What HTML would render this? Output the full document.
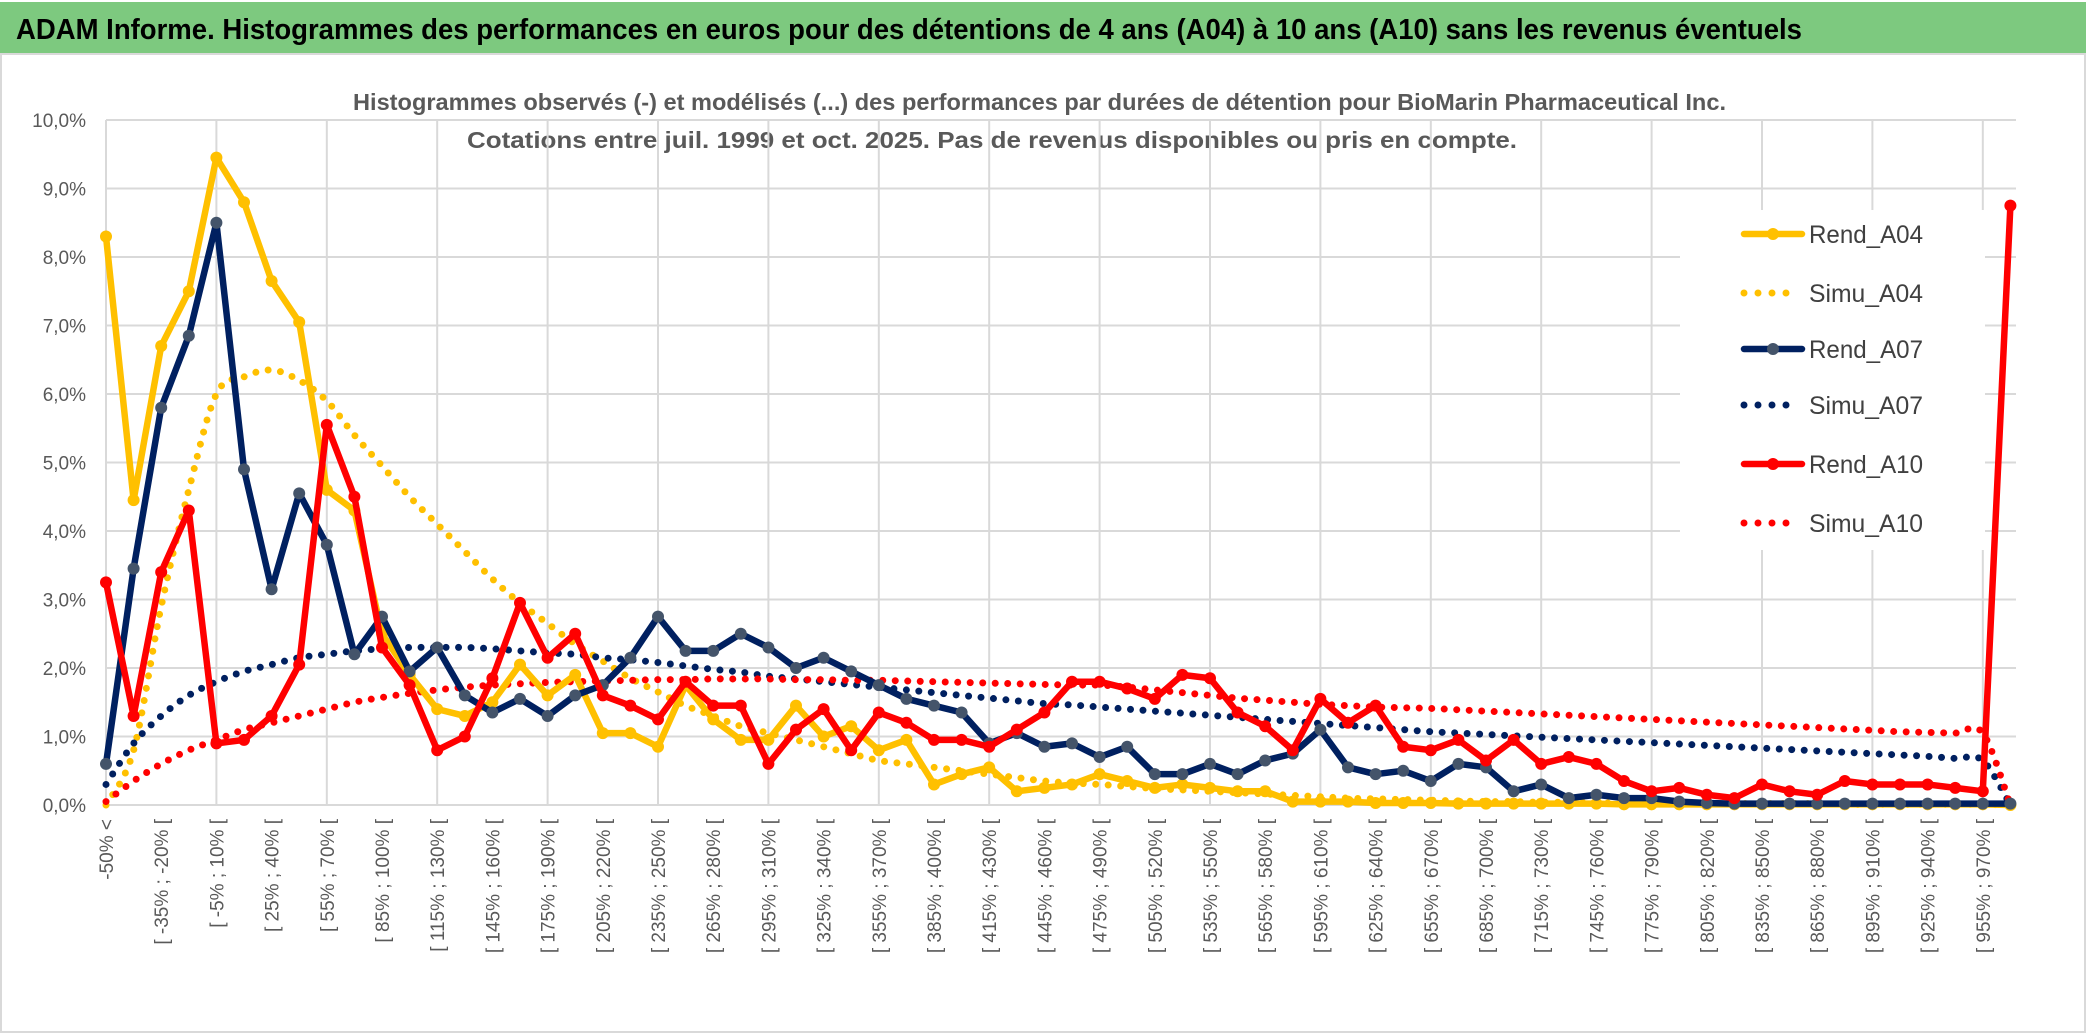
<!DOCTYPE html>
<html><head><meta charset="utf-8"><style>
html,body{margin:0;padding:0;background:#fff;}
svg{display:block;}
</style></head><body>
<svg id="chart" width="2086" height="1033" viewBox="0 0 2086 1033" xmlns="http://www.w3.org/2000/svg" font-family="'Liberation Sans', sans-serif">
<rect x="0" y="0" width="2086" height="1033" fill="#fff"/>
<rect x="1" y="54" width="2084" height="978" fill="none" stroke="#d9d9d9" stroke-width="2"/>
<rect x="0" y="2" width="2086" height="51" fill="#7dc97f"/>
<text x="16" y="39" font-size="29" font-weight="bold" fill="#000" textLength="1786" lengthAdjust="spacingAndGlyphs">ADAM Informe. Histogrammes des performances en euros pour des détentions de 4 ans (A04) à 10 ans (A10) sans les revenus éventuels</text>
<text x="353" y="110" font-size="23" fill="#595959" font-weight="600" textLength="1373" lengthAdjust="spacingAndGlyphs">Histogrammes observés (-) et modélisés (...) des performances par durées de détention pour BioMarin Pharmaceutical Inc.</text>
<text x="467" y="148" font-size="23" fill="#595959" font-weight="600" textLength="1050" lengthAdjust="spacingAndGlyphs">Cotations entre juil. 1999 et oct. 2025. Pas de revenus disponibles ou pris en compte.</text>
<g id="grid"></g>
<g id="yticks"></g>
<g id="xticks"></g>
<g id="series"></g>
<g id="legend"></g>
</svg>
<script>
const NS='http://www.w3.org/2000/svg';
const rendA04=[8.3,4.45,6.7,7.5,9.45,8.8,7.65,7.05,4.6,4.3,2.5,1.9,1.4,1.3,1.5,2.05,1.6,1.9,1.05,1.05,0.85,1.75,1.25,0.95,0.95,1.45,1.0,1.15,0.8,0.95,0.3,0.45,0.55,0.2,0.25,0.3,0.45,0.35,0.25,0.3,0.25,0.2,0.2,0.05,0.05,0.05,0.03,0.03,0.03,0.02,0.02,0.02,0.02,0.02,0.02,0.01,0.01,0.01,0.01,0.01,0.01,0.01,0.01,0.01,0.01,0.01,0.01,0.01,0.01,0];
const rendA07=[0.6,3.45,5.8,6.85,8.5,4.9,3.15,4.55,3.8,2.2,2.75,1.95,2.3,1.6,1.35,1.55,1.3,1.6,1.75,2.15,2.75,2.25,2.25,2.5,2.3,2.0,2.15,1.95,1.75,1.55,1.45,1.35,0.9,1.05,0.85,0.9,0.7,0.85,0.45,0.45,0.6,0.45,0.65,0.75,1.1,0.55,0.45,0.5,0.35,0.6,0.55,0.2,0.3,0.1,0.15,0.1,0.1,0.05,0.03,0.02,0.02,0.02,0.02,0.02,0.02,0.02,0.02,0.02,0.02,0.02];
const rendA10=[3.25,1.3,3.4,4.3,0.9,0.95,1.3,2.05,5.55,4.5,2.3,1.75,0.8,1.0,1.85,2.95,2.15,2.5,1.6,1.45,1.25,1.8,1.45,1.45,0.6,1.1,1.4,0.8,1.35,1.2,0.95,0.95,0.85,1.1,1.35,1.8,1.8,1.7,1.55,1.9,1.85,1.35,1.15,0.8,1.55,1.2,1.45,0.85,0.8,0.95,0.65,0.95,0.6,0.7,0.6,0.35,0.2,0.25,0.15,0.1,0.3,0.2,0.15,0.35,0.3,0.3,0.3,0.25,0.2,8.75];
const simuA04=[0,0.8,2.9,4.6,6.0,6.25,6.35,6.2,5.9,5.4,4.95,4.5,4.1,3.7,3.3,2.95,2.65,2.35,2.1,1.85,1.65,1.45,1.3,1.15,1.05,0.95,0.85,0.75,0.65,0.6,0.55,0.5,0.45,0.4,0.35,0.32,0.3,0.27,0.24,0.22,0.2,0.18,0.16,0.14,0.12,0.1,0.09,0.08,0.07,0.06,0.05,0.05,0.04,0.04,0.03,0.03,0.03,0.02,0.02,0.02,0.02,0.02,0.02,0.01,0.01,0.01,0.01,0.01,0.01,0];
const simuA07=[0.3,0.9,1.3,1.6,1.8,1.95,2.05,2.15,2.2,2.25,2.28,2.3,2.3,2.3,2.28,2.25,2.22,2.2,2.15,2.12,2.08,2.03,1.98,1.94,1.88,1.84,1.8,1.76,1.72,1.68,1.64,1.6,1.56,1.52,1.48,1.46,1.43,1.40,1.37,1.34,1.31,1.28,1.25,1.22,1.19,1.16,1.13,1.1,1.07,1.05,1.03,1.01,0.99,0.97,0.95,0.93,0.91,0.89,0.87,0.85,0.83,0.81,0.79,0.77,0.75,0.73,0.71,0.68,0.65,0];
const simuA10=[0.05,0.35,0.6,0.8,0.95,1.1,1.2,1.3,1.4,1.5,1.57,1.63,1.68,1.72,1.75,1.77,1.79,1.8,1.81,1.82,1.83,1.83,1.84,1.84,1.84,1.83,1.83,1.82,1.82,1.81,1.8,1.79,1.78,1.77,1.76,1.75,1.75,1.72,1.68,1.64,1.6,1.56,1.53,1.5,1.47,1.45,1.43,1.42,1.41,1.39,1.37,1.35,1.33,1.31,1.29,1.27,1.25,1.23,1.21,1.19,1.17,1.15,1.13,1.11,1.09,1.07,1.06,1.05,1.05,0];
const yTicks=[0,1,2,3,4,5,6,7,8,9,10];
const yTickLabels=['0,0%','1,0%','2,0%','3,0%','4,0%','5,0%','6,0%','7,0%','8,0%','9,0%','10,0%'];
const categories=['-50% <'];
for(let k=1;k<69;k++){const lo=-50+15*(k-1);categories.push('[ '+lo+'% ; '+(lo+15)+'% [');}
categories.push('>= 970%');

const X0=106,DX=27.6,Y0=805,PY=68.5,XR=2016;
const xS=i=>X0+i*DX;
const yS=v=>Y0-v*PY;
function el(tag,attrs,parent){const e=document.createElementNS(NS,tag);for(const k in attrs)e.setAttribute(k,attrs[k]);parent.appendChild(e);return e;}

const grid=document.getElementById('grid');
yTicks.forEach(v=>{
  const l=el('line',{x1:X0,x2:XR,y1:yS(v),y2:yS(v),stroke:'#d9d9d9','stroke-width':2},grid);
  
  
});
for(let i=0;i<categories.length;i+=4){
  const l=el('line',{x1:xS(i),x2:xS(i),y1:yS(10),y2:Y0,stroke:'#d9d9d9','stroke-width':2},grid);
  
  
}
const yt=document.getElementById('yticks');
yTicks.forEach((v,i)=>{
  const t=el('text',{x:86,y:yS(v)+7,'font-size':19,fill:'#595959','text-anchor':'end'},yt);
  t.textContent=yTickLabels[i];
  
  
});
const xt=document.getElementById('xticks');
for(let i=0;i<categories.length-1;i+=2){
  const t=el('text',{x:0,y:0,'font-size':19,fill:'#595959','text-anchor':'end',transform:'translate('+(xS(i)+7)+','+(Y0+14)+') rotate(-90)'},xt);
  t.textContent=categories[i];
  
  
}

function smoothPath(vals){
  const p=vals.map((v,i)=>[xS(i),yS(v)]);
  let d='M'+p[0][0]+','+p[0][1];
  for(let i=0;i<p.length-1;i++){
    const p0=p[i-1]||p[i],p1=p[i],p2=p[i+1],p3=p[i+2]||p2;
    const c1=[p1[0]+(p2[0]-p0[0])/6,p1[1]+(p2[1]-p0[1])/6];
    const c2=[p2[0]-(p3[0]-p1[0])/6,p2[1]-(p3[1]-p1[1])/6];
    d+=' C'+c1[0]+','+c1[1]+' '+c2[0]+','+c2[1]+' '+p2[0]+','+p2[1];
  }
  return d;
}
const sg=document.getElementById('series');
function drawSimu(vals,color,name){
  const p=el('path',{d:smoothPath(vals),fill:'none',stroke:color,'stroke-width':7,'stroke-linecap':'round','stroke-dasharray':'0 12.5'},sg);
  
  
}
function drawRend(vals,color,mcolor,name){
  const pts=vals.map((v,i)=>xS(i)+','+yS(v)).join(' ');
  const l=el('polyline',{points:pts,fill:'none',stroke:color,'stroke-width':6.5,'stroke-linejoin':'round'},sg);
  
  
  vals.forEach((v,i)=>{
    const c=el('circle',{cx:xS(i),cy:yS(v),r:6,fill:mcolor},sg);
    
    
  });
}
drawSimu(simuA04,'#ffc000','simu-a04-line');
drawSimu(simuA07,'#002060','simu-a07-line');
drawSimu(simuA10,'#ff0000','simu-a10-line');
drawRend(rendA04,'#ffc000','#ffc000','rend-a04');
drawRend(rendA07,'#002060','#44546a','rend-a07');
drawRend(rendA10,'#ff0000','#ff0000','rend-a10');

const lg=document.getElementById('legend');
const lbox=el('rect',{x:1680,y:210,width:305,height:340,fill:'#fff'},lg);


const legItems=[['Rend_A04','#ffc000','#ffc000',false],['Simu_A04','#ffc000','#ffc000',true],['Rend_A07','#002060','#44546a',false],['Simu_A07','#002060','#002060',true],['Rend_A10','#ff0000','#ff0000',false],['Simu_A10','#ff0000','#ff0000',true]];
const legY=[234,293,349,405,464,523];
legItems.forEach((it,i)=>{
  const y=legY[i];
  if(it[3]){
    const l=el('line',{x1:1744,x2:1792,y1:y,y2:y,stroke:it[1],'stroke-width':7,'stroke-linecap':'round','stroke-dasharray':'0 14'},lg);
    
    
  } else {
    const l=el('line',{x1:1744,x2:1802,y1:y,y2:y,stroke:it[1],'stroke-width':6.5,'stroke-linecap':'round'},lg);
    
    
    const c=el('circle',{cx:1773,cy:y,r:6,fill:it[2]},lg);
    
    
  }
  const t=el('text',{x:1809,y:y+9,'font-size':25,fill:'#404040',textLength:114,lengthAdjust:'spacingAndGlyphs'},lg);
  t.textContent=it[0];
  
  
});
</script>
</body></html>
